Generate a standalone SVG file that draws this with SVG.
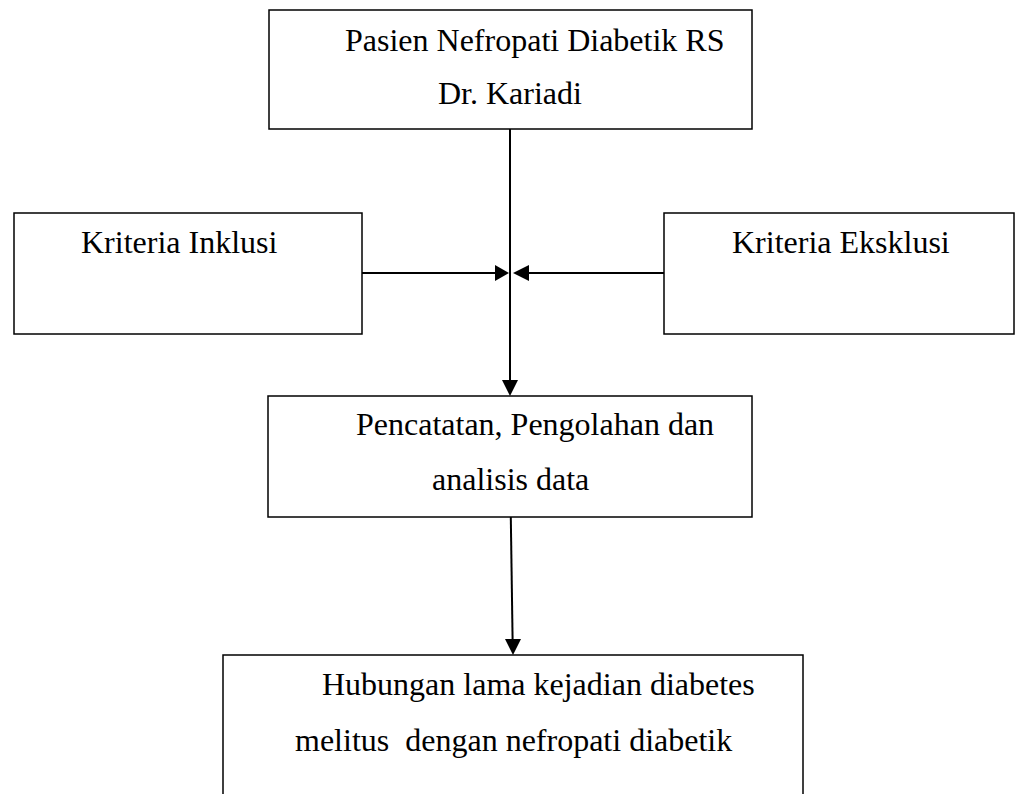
<svg xmlns="http://www.w3.org/2000/svg" width="1019" height="794" viewBox="0 0 1019 794">
<style>
.box{fill:#fff;stroke:#000;stroke-width:1.5}
.t{font-family:"Liberation Serif","Times New Roman",serif;font-size:32px;fill:#000}
.c{stroke:#000;stroke-width:2;fill:none}
.h{fill:#000}
</style>
<rect width="1019" height="794" fill="#fff"/>
<g id="connectors">
<line class="c" x1="510" y1="129" x2="510" y2="381"/>
<path class="h" d="M502,380 L518,380 L510,396 Z"/>
<line class="c" x1="362" y1="273" x2="496" y2="273"/>
<path class="h" d="M495,265 L495,281 L509,273 Z"/>
<line class="c" x1="664" y1="273" x2="528" y2="273"/>
<path class="h" d="M529,265 L529,281 L513,273 Z"/>
<line class="c" x1="510.8" y1="517" x2="512.6" y2="640"/>
<path class="h" d="M505,639 L521,639 L513,655 Z"/>
</g>
<g id="n1">
<rect class="box" x="269" y="10" width="483" height="119"/>
<text class="t" x="345" y="51">Pasien Nefropati Diabetik RS</text>
<text class="t" x="438" y="104">Dr. Kariadi</text>
</g>
<g id="n2">
<rect class="box" x="14" y="213" width="348" height="121"/>
<text class="t" x="81" y="253">Kriteria Inklusi</text>
</g>
<g id="n3">
<rect class="box" x="664" y="213" width="350" height="121"/>
<text class="t" x="732" y="253">Kriteria Eksklusi</text>
</g>
<g id="n4">
<rect class="box" x="268" y="396" width="484" height="121"/>
<text class="t" x="356" y="435">Pencatatan, Pengolahan dan</text>
<text class="t" x="432" y="490">analisis data</text>
</g>
<g id="n5">
<rect class="box" x="223" y="655" width="580" height="160"/>
<text class="t" x="322" y="695">Hubungan lama kejadian diabetes</text>
<text class="t" x="295" y="751" xml:space="preserve">melitus  dengan nefropati diabetik</text>
</g>
</svg>
